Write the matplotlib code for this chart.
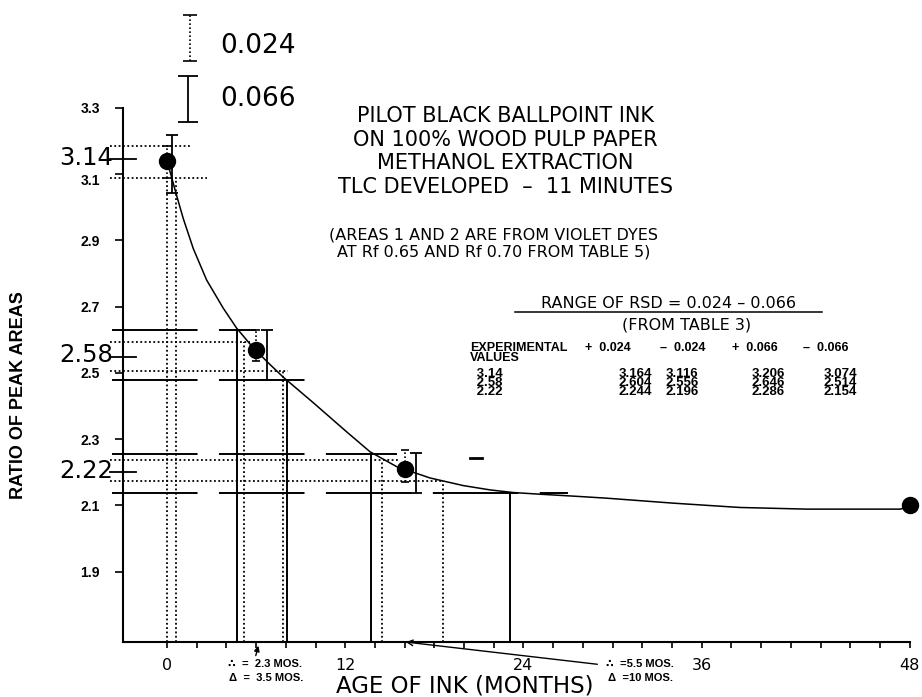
import numpy as np
import matplotlib.pyplot as plt
from matplotlib.lines import Line2D
from matplotlib.transforms import ScaledTranslation

plt.rcParams['font.family'] = ['DejaVu Sans']

# measured points (months, ratio of peak areas)
months = [0, 6, 16, 48]
ratio = [3.14, 2.57, 2.21, 2.10]

# fitted curve
curve_x = [0, 0.25, 0.65, 1.1, 1.77, 2.67, 3.79, 4.69, 5.59, 6.71, 7.83, 9.85,
           12.1, 13.67, 15.47, 17.71, 19.95, 21.75, 23.32, 25.12, 27.81, 29.61,
           34.09, 38.2, 42.07, 47.45, 48]
curve_y = [3.14, 3.10, 3.035, 2.965, 2.875, 2.78, 2.695, 2.635, 2.587, 2.535, 2.487, 2.41,
           2.322, 2.262, 2.217, 2.183, 2.16, 2.147, 2.139, 2.134, 2.127, 2.122,
           2.107, 2.094, 2.089, 2.089, 2.096]

# 0.066 bars (solid) and 0.024 bars (dotted)
bar066_x = [0.34, 6.71, 16.77]
bar066_lo = [3.044, 2.479, 2.139]
bar066_hi = [3.218, 2.629, 2.258]
bar024_lo = [3.089, 2.535, 2.170]
bar024_hi = [3.184, 2.629, 2.267]

# range lines
solid_y = [2.629, 2.479, 2.255, 2.139]
solid_x_end = [6.0, 9.6, 15.5, 27.0]
solid_drop_x = [4.69, 8.06, 13.72, 23.1]
dotted_y = [3.184, 3.089, 2.594, 2.507, 2.237, 2.175]
dotted_x_end = [1.6, 2.7, 5.6, 8.15, 15.6, 18.6]
dotted_drop_x = [0.0, 0.6, 5.19, 7.83, 14.5, 18.6]
dotted_drop_top = [3.089, 3.089, 2.594, 2.507, 2.237, 2.175]

big_labels = ['3.14', '2.58', '2.22']
big_label_y = [3.144, 2.549, 2.201]

yticks = [1.9, 2.1, 2.3, 2.5, 2.7, 2.9, 3.1, 3.3]
xticks_major = [0, 12, 24, 36, 48]

# table
exp_vals = ['3.14', '2.58', '2.22']
plus024 = ['3.164', '2.604', '2.244']
minus024 = ['3.116', '2.556', '2.196']
plus066 = ['3.206', '2.646', '2.286']
minus066 = ['3.074', '2.514', '2.154']

W, H = 922, 697
fig = plt.figure(figsize=(W / 100, H / 100), dpi=100)
ax = fig.add_axes([0.1331, 0.0793, 0.8539, 0.7662])


# the drawing squeezes 7 tick steps between 36 and 48
def fwd(x):
    x = np.asarray(x, float)
    return np.where(x <= 36, x, 36 + (x - 36) * 14 / 12)


def inv(s):
    s = np.asarray(s, float)
    return np.where(s <= 36, s, 36 + (s - 36) * 12 / 14)


ax.set_xscale('function', functions=(fwd, inv))
ax.set_xlim(-2.98, 48.02)
ax.set_ylim(1.689, 3.3)

ybot = 1.689
xleft_solid = -3.7
xleft_dot = -3.85

# range lines
for y, xe in zip(solid_y, solid_x_end):
    ax.plot([xleft_solid, xe], [y, y], color='k', lw=1.4, ls=(0, (44, 11)),
            clip_on=False, solid_capstyle='butt')
for x, yt in zip(solid_drop_x, solid_y):
    ax.plot([x, x], [ybot, yt], color='k', lw=1.4)
for y, xe in zip(dotted_y, dotted_x_end):
    ax.plot([xleft_dot, xe], [y, y], color='k', lw=1.3, ls=(0, (1, 1.4)), clip_on=False)
for x, yt in zip(dotted_drop_x, dotted_drop_top):
    ax.plot([x, x], [ybot, yt], color='k', lw=1.3, ls=(0, (1, 1.4)))

# curve
ax.plot(curve_x, curve_y, color='k', lw=1.1)

# error bars
r3 = np.array(ratio[:3])
ax.errorbar(bar066_x, r3, yerr=[r3 - np.array(bar066_lo), np.array(bar066_hi) - r3],
            fmt='none', ecolor='k', elinewidth=1.3, capsize=4.5, capthick=1.3)
eb = ax.errorbar(months[:3], r3, yerr=[r3 - np.array(bar024_lo), np.array(bar024_hi) - r3],
                 fmt='none', ecolor='k', elinewidth=1.2, capsize=3, capthick=1.2)
eb[2][0].set_linestyle((0, (1, 1.4)))

# points
ax.plot(months, ratio, 'o', color='k', ms=11.5, zorder=5, clip_on=False)

# stray dash on the drawing
ax.plot([20.4, 21.2], [2.242, 2.242], color='k', lw=2)

# bar key above the axis
k1 = ax.errorbar([1.55], [3.51], yerr=[[0.07], [0.07]], fmt='none', ecolor='k',
                 elinewidth=1.2, capsize=5, capthick=1.2)
k1[2][0].set_linestyle((0, (1, 1.4)))
for c in k1[1]:
    c.set_clip_on(False)
k1[2][0].set_clip_on(False)
k2 = ax.errorbar([1.44], [3.3275], yerr=[[0.0695], [0.0695]], fmt='none', ecolor='k',
                 elinewidth=1.3, capsize=7, capthick=1.3)
for c in k2[1]:
    c.set_clip_on(False)
k2[2][0].set_clip_on(False)

# value markers on the y axis
for lab, y in zip(big_labels, big_label_y):
    ax.plot([-3.85, -2.1], [y, y], color='k', lw=1.3, clip_on=False)
    ax.text(-3.62, y + 0.004, lab, ha='right', va='center', fontsize=17.5, clip_on=False)

# axes styling
for side in ['top', 'right']:
    ax.spines[side].set_visible(False)
ax.spines['left'].set_linewidth(1.5)
ax.spines['bottom'].set_linewidth(1.5)
ax.set_yticks(yticks)
ax.set_yticklabels([f'{v:.1f}' for v in yticks], fontfamily='Liberation Sans',
                   fontweight='bold', fontsize=10)
ax.tick_params(axis='y', direction='out', length=5.5, width=1.2, pad=11)
# the 3.1 label sits a little low on the drawing
lab31 = ax.get_yticklabels()[yticks.index(3.1)]
lab31.set_transform(lab31.get_transform() + ScaledTranslation(0, -4 / 72, fig.dpi_scale_trans))
ax.set_xticks(xticks_major)
ax.set_xticklabels([str(v) for v in xticks_major], fontsize=11.5)
ax.set_xticks(inv(np.arange(0, 51, 2)), minor=True)
ax.tick_params(axis='x', which='both', direction='out', length=4, width=1.2, pad=8)


def ftext(xp, yp, s, **kw):
    fig.text(xp / W, 1 - yp / H, s, **kw)


ftext(220, 46, '0.024', fontsize=19, va='center')
ftext(220, 99, '0.066', fontsize=19, va='center')

title_lines = ['PILOT BLACK BALLPOINT INK', 'ON 100% WOOD PULP PAPER',
               'METHANOL EXTRACTION', 'TLC DEVELOPED  \u2013  11 MINUTES']
for yp, s in zip([116, 140, 163, 187], title_lines):
    ftext(505, yp, s, fontsize=15, ha='center', va='center')
ftext(493, 235, '(AREAS 1 AND 2 ARE FROM VIOLET DYES', fontsize=11.5, ha='center', va='center')
ftext(494, 252, 'AT Rf 0.65 AND Rf 0.70 FROM TABLE 5)', fontsize=11.5, ha='center', va='center')

ftext(668, 304, 'RANGE OF RSD = 0.024 \u2013 0.066', fontsize=11.5, ha='center', va='center')
fig.add_artist(Line2D([515 / W, 822 / W], [1 - 312 / H, 1 - 312 / H], color='k', lw=1.1))
ftext(687, 325, '(FROM TABLE 3)', fontsize=11.5, ha='center', va='center')

tf = dict(fontfamily=['Liberation Sans', 'DejaVu Sans'], fontweight='bold', fontsize=9)
ftext(470, 353, 'EXPERIMENTAL\nVALUES', va='center', linespacing=0.85, **tf)
ftext(585, 348, '+  0.024', va='center', **tf)
ftext(660, 348, '\u2013  0.024', va='center', **tf)
ftext(732, 348, '+  0.066', va='center', **tf)
ftext(803, 348, '\u2013  0.066', va='center', **tf)
cf = dict(tf, fontsize=9.5, va='top', linespacing=0.68)
ftext(473, 368, '\n'.join(' ' + v for v in exp_vals), ha='left', **cf)
ftext(635, 368, '\n'.join(plus024), ha='center', **cf)
ftext(682, 368, '\n'.join(minus024), ha='center', **cf)
ftext(768, 368, '\n'.join(plus066), ha='center', **cf)
ftext(840, 368, '\n'.join(minus066), ha='center', **cf)

# notes under the axis
nf = dict(fontfamily=['Liberation Sans', 'DejaVu Sans'], fontweight='bold', fontsize=8, va='center')
ftext(228, 664, '\u2234  =  2.3 MOS.', **nf)
ftext(229, 678, '\u0394  =  3.5 MOS.', **nf)
ftext(606, 664, '\u2234  =5.5 MOS.', **nf)
ftext(608, 678, '\u0394  =10 MOS.', **nf)
ax.annotate('', xy=(6.2, 1.685), xytext=(5.93, 1.639), annotation_clip=False,
            arrowprops=dict(arrowstyle='-|>', color='k', lw=1, mutation_scale=8))
ax.annotate('', xy=(15.9, 1.689), xytext=(29.16, 1.62), annotation_clip=False,
            arrowprops=dict(arrowstyle='->', color='k', lw=1, mutation_scale=10))

ftext(465, 686, 'AGE OF INK (MONTHS)', fontsize=16.5, ha='center', va='center')
ftext(19, 395, 'RATIO OF PEAK AREAS', fontsize=13, fontfamily='Liberation Sans',
      fontweight='bold', rotation=90, ha='center', va='center')

fig.savefig('out.png', dpi=100)
